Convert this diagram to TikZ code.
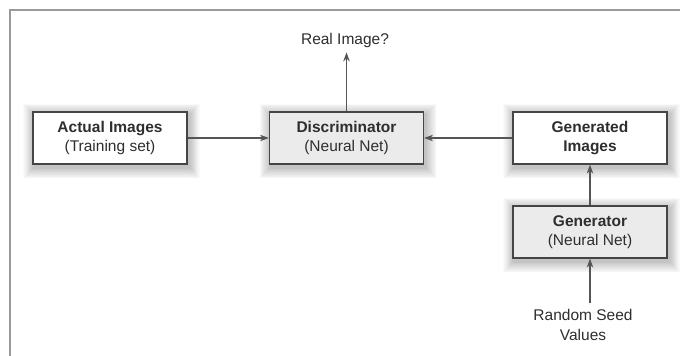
\documentclass[tikz,border=0pt]{standalone}
\usepackage{fontspec}
\setmainfont{Liberation Sans}
\usetikzlibrary{arrows.meta,backgrounds}
\definecolor{framegray}{HTML}{9A9A9A}
\definecolor{boxline}{HTML}{454545}
\definecolor{boxfill}{HTML}{EBEBEB}
\definecolor{txt}{HTML}{2E2E2E}
\definecolor{arrowgray}{HTML}{555555}
\tikzset{
  box/.style={draw=boxline, line width=1.2pt, fill=white, minimum width=154pt, minimum height=52pt,
    inner sep=0pt, align=center, text=txt, font=\fontsize{15.5}{19.5}\selectfont},
  greybox/.style={box, fill=boxfill},
  lbl/.style={align=center, text=txt, font=\fontsize{15.5}{19.5}\selectfont, inner sep=1pt},
  conn/.style={draw=arrowgray, line width=1.2pt, -{Stealth[length=9pt,width=6.5pt]}},
}
\newcommand{\softshadow}[1]{%
  \foreach \k in {1,...,12} {
    \fill[black, opacity=0.018]
      ([xshift=-\k*0.9pt+1.5pt, yshift=\k*0.9pt-3pt]#1.north west) rectangle
      ([xshift=\k*0.9pt+1.5pt, yshift=-\k*0.9pt-3pt]#1.south east);
  }}
\begin{document}
\begin{tikzpicture}[x=1pt,y=-1pt]
\useasboundingbox (0,0) rectangle (680,356);

\node[box]     (actual) at (110,138) {\textbf{Actual Images}\\(Training set)};
\node[greybox] (disc)   at (346.5,138) {\textbf{Discriminator}\\(Neural Net)};
\node[box]     (genimg) at (590,138) {\textbf{Generated}\\\textbf{Images}};
\node[greybox] (gen)    at (590,232) {\textbf{Generator}\\(Neural Net)};

\node[lbl] (real) at (345,40) {Real Image?};
\node[lbl] (seed) at (583,325) {Random Seed\\Values};

\begin{scope}[on background layer]
  \fill[white] (0,0) rectangle (680,356);
  \softshadow{actual}
  \softshadow{disc}
  \softshadow{genimg}
  \softshadow{gen}
\end{scope}
\draw[framegray, line width=1.5pt] (10,356) -- (10,10) -- (680,10);

\draw[conn] (actual.east) -- (disc.west);
\draw[conn] (genimg.west) -- (disc.east);
\draw[conn] (disc.north) -- ([yshift=-4pt]real.south -| disc.north);
\draw[conn] (gen.north) -- (genimg.south);
\draw[conn] ([yshift=5pt]seed.north -| gen.south) -- (gen.south);
\end{tikzpicture}
\end{document}
